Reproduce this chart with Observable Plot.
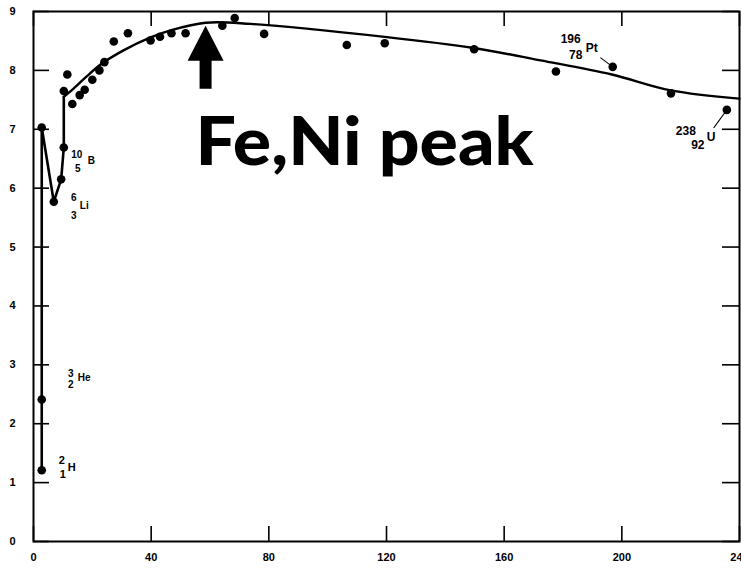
<!DOCTYPE html>
<html>
<head>
<meta charset="utf-8">
<script src="https://cdn.jsdelivr.net/npm/d3@7"></script>
<script src="https://cdn.jsdelivr.net/npm/@observablehq/plot@0.6"></script>
<style>
  html, body { margin: 0; padding: 0; background: white; overflow: hidden; }
  #chart { width: 741px; height: 570px; }
</style>
</head>
<body>
<div id="chart"></div>
<script>
// ---- data ----
const massNumber = [2.8, 2.8, 2.8, 6.9, 9.4, 10.3, 10.3, 11.5, 13.2, 15.7, 17.4, 20.0, 22.4, 24.1, 27.3, 32.1, 39.8, 43.0, 46.9, 51.7, 64.2, 68.4, 78.4, 106.5, 119.4, 149.8, 177.6, 196.9, 216.7, 235.7];
const bindingEnergy = [1.21, 2.41, 7.03, 5.77, 6.15, 6.69, 7.65, 7.93, 7.43, 7.58, 7.67, 7.84, 8.00, 8.14, 8.49, 8.63, 8.51, 8.57, 8.63, 8.63, 8.76, 8.89, 8.62, 8.43, 8.46, 8.36, 7.98, 8.06, 7.61, 7.33];

// smooth trend curve
const curveA  = [10.3, 13.6, 17.7, 22.8, 30.6, 39.8, 46.6, 58.5, 73.8, 119.4, 149.7, 172.4, 196.6, 216.7, 240];
const curveBE = [7.55, 7.69, 7.88, 8.10, 8.34, 8.56, 8.68, 8.81, 8.79, 8.57, 8.38, 8.17, 7.93, 7.66, 7.52];

// light-nucleus polyline (indices into the point arrays)
const lightPath = [0, 2, 3, 4, 5];

const xTicks = [0, 40, 80, 120, 160, 200, 240];
const yTicks = [0, 1, 2, 3, 4, 5, 6, 7, 8, 9];
const xDomain = [0, 240];
const yDomain = [0, 9];

// isotope labels: point index, mass number, atomic number, symbol
const isotopes = [
  {i: 0,  mass: "2",   z: "1",  sym: "H"},
  {i: 1,  mass: "3",   z: "2",  sym: "He"},
  {i: 3,  mass: "6",   z: "3",  sym: "Li"},
  {i: 5,  mass: "10",  z: "5",  sym: "B"},
  {i: 27, mass: "196", z: "78", sym: "Pt"},
  {i: 29, mass: "238", z: "92", sym: "U"}
];
const peakLabel = "Fe,Ni peak";

// ---- build tables ----
const points = massNumber.map((a, k) => ({a, be: bindingEnergy[k]}));
const curve = curveA.map((a, k) => ({a, be: curveBE[k]}));
const light = lightPath.map(k => points[k]).concat([curve[0]]);
const peak = d3.greatest(curve, d => d.be);

// ---- layout / style ----
const W = 741, H = 570, ML = 33, MR = 2, MT = 11, MB = 29;
const innerW = W - ML - MR, innerH = H - MT - MB;
const TICK_X = 15, TICK_Y = 16;

// label offsets (px) per isotope: [mass dx,dy], [z dx,dy], [symbol dx,dy], font size
const labelStyle = {
  H:  {m: [20, -10], z: [21, 4],   s: [26, -3],  fs: 11},
  He: {m: [29, -26], z: [29, -15], s: [36, -22], fs: 10},
  Li: {m: [20, -4],  z: [20, 14],  s: [26, 4],   fs: 10},
  B:  {m: [13, 7],   z: [14, 21],  s: [24, 13],  fs: 10},
  Pt: {m: [-42, -28], z: [-37, -12], s: [-27, -19], fs: 12},
  U:  {m: [-41, 21],  z: [-29, 35],  s: [-20, 27],  fs: 12}
};

const lineShape = {draw(ctx, l) { ctx.moveTo(0, 0); ctx.lineTo(0, -l); }};
const arrowShape = {
  draw(ctx, l) {
    const hw = 18, hl = 35, sw = 6;
    ctx.moveTo(-sw, 0);
    ctx.lineTo(-sw, -(l - hl));
    ctx.lineTo(-hw, -(l - hl));
    ctx.lineTo(0, -l);
    ctx.lineTo(hw, -(l - hl));
    ctx.lineTo(sw, -(l - hl));
    ctx.lineTo(sw, 0);
    ctx.closePath();
  }
};

const labelMarks = [];
for (const iso of isotopes) {
  const p = points[iso.i];
  const st = labelStyle[iso.sym];
  const common = {x: "a", y: "be", fontWeight: "bold", fontFamily: "Liberation Sans", lineAnchor: "middle", fill: "black"};
  labelMarks.push(Plot.text([p], {...common, text: () => iso.mass, dx: st.m[0], dy: st.m[1], fontSize: st.fs, textAnchor: "middle"}));
  labelMarks.push(Plot.text([p], {...common, text: () => iso.z, dx: st.z[0], dy: st.z[1], fontSize: st.fs, textAnchor: "middle"}));
  labelMarks.push(Plot.text([p], {...common, text: () => iso.sym, dx: st.s[0], dy: st.s[1], fontSize: st.fs, textAnchor: "start"}));
}

const tickStyle = {stroke: "#000000", strokeWidth: 1.6, strokeOpacity: 1};

const chart = Plot.plot({
  width: W, height: H,
  marginLeft: ML, marginRight: MR, marginTop: MT, marginBottom: MB,
  style: {fontFamily: "Liberation Sans", background: "white"},
  x: {domain: xDomain},
  y: {domain: yDomain},
  marks: [
    Plot.frame({stroke: "black", strokeWidth: 2}),
    // inward ticks on all four sides
    Plot.tickX(xTicks, {x: d => d, insetTop: innerH - TICK_X, ...tickStyle}),
    Plot.tickX(xTicks, {x: d => d, insetBottom: innerH - TICK_X, ...tickStyle}),
    Plot.tickY(yTicks, {y: d => d, insetRight: innerW - TICK_Y, ...tickStyle}),
    Plot.tickY(yTicks, {y: d => d, insetLeft: innerW - TICK_Y - 1, ...tickStyle}),
    Plot.axisX({ticks: xTicks, tickSize: 0, tickPadding: 12, fontSize: 11, fontWeight: "bold", label: null}),
    Plot.axisY({ticks: yTicks, tickSize: 0, tickPadding: 18, fontSize: 11, fontWeight: "bold", label: null}),
    // curves
    Plot.line(light, {x: "a", y: "be", stroke: "black", strokeWidth: 2.6, curve: "linear"}),
    Plot.line(curve, {x: "a", y: "be", stroke: "black", strokeWidth: 2.4, curve: "catmull-rom"}),
    // leader lines for Pt and U
    Plot.vector([points[27]], {x: "a", y: "be", anchor: "start", length: 15, rotate: -53, shape: lineShape, stroke: "black", strokeWidth: 1}),
    Plot.vector([points[29]], {x: "a", y: "be", anchor: "start", length: 22, rotate: -144, shape: lineShape, stroke: "black", strokeWidth: 1}),
    // data points
    Plot.dot(points, {x: "a", y: "be", r: 4.3, fill: "black", stroke: "none"}),
    ...labelMarks,
    // Fe,Ni peak annotation
    Plot.vector([peak], {x: "a", y: "be", anchor: "end", length: 63, shape: arrowShape, fill: "black", stroke: "none", dy: 3}),
    Plot.text([peak], {x: "a", y: "be", text: () => peakLabel, dx: -10, dy: 142, textAnchor: "start", lineAnchor: "bottom", fontSize: 66, fontWeight: 900, fontFamily: "Lato", fill: "black", className: "peak-label"})
  ]
});
document.getElementById("chart").append(chart);
// stretch the big annotation to the reference's wider (Comic-style) width
d3.select(chart).selectAll(".peak-label text")
  .attr("textLength", 338)
  .attr("lengthAdjust", "spacingAndGlyphs");
</script>
</body>
</html>
